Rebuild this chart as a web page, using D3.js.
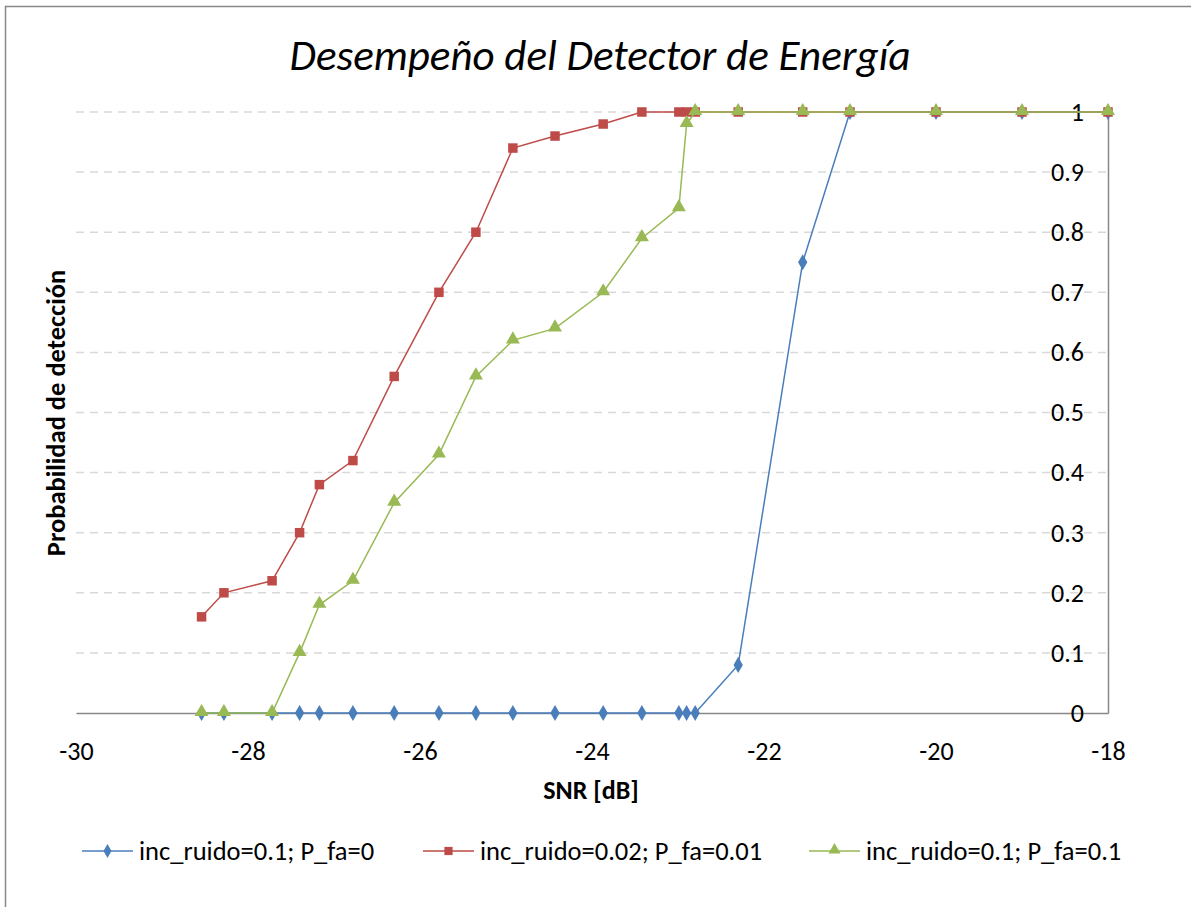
<!DOCTYPE html>
<html><head><meta charset="utf-8">
<script src="https://cdn.jsdelivr.net/npm/d3@7/dist/d3.min.js"></script>
<style>
body{margin:0;background:#fff;}
svg text{font-family:Carlito,Calibri,Lato,"Open Sans",sans-serif;}
</style></head><body>
<svg id="c" width="1191" height="907"></svg>
<script>
const snr = [-28.54,-28.28,-27.72,-27.40,-27.17,-26.78,-26.30,-25.78,-25.35,-24.92,-24.43,-23.87,-23.42,-22.99,-22.90,-22.80,-22.30,-21.55,-21.0,-20,-19,-18];
const blue = [0,0,0,0,0,0,0,0,0,0,0,0,0,0,0,0,0.08,0.75,1,1,1,1];
const red = [0.16,0.20,0.22,0.30,0.38,0.42,0.56,0.70,0.80,0.94,0.96,0.98,1,1,1,1,1,1,1,1,1,1];
const green = [0,0,0,0.10,0.18,0.22,0.35,0.43,0.56,0.62,0.64,0.70,0.79,0.84,0.98,1,1,1,1,1,1,1];
const seriesNames = ["inc_ruido=0.1; P_fa=0","inc_ruido=0.02; P_fa=0.01","inc_ruido=0.1; P_fa=0.1"];
const xTicks = [-30,-28,-26,-24,-22,-20,-18];
const yTicks = [0,0.1,0.2,0.3,0.4,0.5,0.6,0.7,0.8,0.9,1];
const title = "Desempeño del Detector de Energía";
const xTitle = "SNR [dB]";
const yTitle = "Probabilidad de detección";

const colors = ["#4A7EBB","#BE4B48","#98B954"];
const symbols = [d3.symbolDiamond, d3.symbolSquare, d3.symbolTriangle];
const symSizes = [75, 90, 85];

const svg = d3.select("#c");
svg.append("rect").attr("x",5.5).attr("y",6.5).attr("width",1200).attr("height",1000)
  .attr("fill","none").attr("stroke","#888").attr("stroke-width",1.5);

const L=76, R=1108, T=112, B=713;
const x = d3.scaleLinear().domain([-30,-18]).range([L,R]);
const y = d3.scaleLinear().domain([0,1]).range([B,T]);

svg.append("g").selectAll("line").data(yTicks.filter(v=>v>0)).join("line")
  .attr("x1",L).attr("x2",R).attr("y1",d=>y(d)).attr("y2",d=>y(d))
  .attr("stroke","#d9d9d9").attr("stroke-width",1.5).attr("stroke-dasharray","8,6");

const xAxis = svg.append("g").attr("transform",`translate(0,${B})`)
  .call(d3.axisBottom(x).tickValues(xTicks).tickSize(0).tickPadding(29).tickFormat(d=>String(d)));
xAxis.select(".domain").attr("stroke","#888").attr("stroke-width",1.5);
xAxis.selectAll("text").attr("font-size",26).attr("fill","#000");

const yAxis = svg.append("g").attr("transform",`translate(${R},0)`)
  .call(d3.axisLeft(y).tickValues(yTicks).tickSize(0).tickPadding(24).tickFormat(d=>d===0?"0":d===1?"1":d3.format(".1f")(d)));
yAxis.select(".domain").attr("stroke","#888").attr("stroke-width",1.5);
yAxis.selectAll("text").attr("font-size",26).attr("fill","#000");

const all = [blue, red, green];
all.forEach((vals,i)=>{
  const pts = snr.map((s,j)=>[s,vals[j]]);
  svg.append("path").datum(pts)
    .attr("d", d3.line().x(d=>x(d[0])).y(d=>y(d[1])))
    .attr("fill","none").attr("stroke",colors[i]).attr("stroke-width",1.5);
  svg.append("g").selectAll("path").data(pts).join("path")
    .attr("transform",d=>`translate(${x(d[0])},${y(d[1]) + (i===2?-1:0)})`)
    .attr("d", d3.symbol().type(symbols[i]).size(symSizes[i]))
    .attr("fill",colors[i]);
});

svg.append("text").attr("x",600).attr("y",70).attr("text-anchor","middle")
  .attr("font-size",43).attr("font-style","italic").text(title);
svg.append("text").attr("x",591).attr("y",799).attr("text-anchor","middle")
  .attr("font-size",26).attr("font-weight","bold").text(xTitle);
svg.append("text").attr("transform","translate(65,413) rotate(-90)").attr("text-anchor","middle")
  .attr("font-size",26.5).attr("font-weight","bold").text(yTitle);

const legX = [82, 423, 809];
const legY = 851;
seriesNames.forEach((n,i)=>{
  const g = svg.append("g").attr("transform",`translate(${legX[i]},${legY})`);
  g.append("line").attr("x1",0).attr("x2",51).attr("y1",0).attr("y2",0)
    .attr("stroke",colors[i]).attr("stroke-width",1.5);
  g.append("path").attr("transform",`translate(25.5,${i===2?-1:0})`)
    .attr("d", d3.symbol().type(symbols[i]).size(symSizes[i]*0.75)).attr("fill",colors[i]);
  g.append("text").attr("x",57).attr("y",9).attr("font-size",26.5).text(n);
});
</script></body></html>
